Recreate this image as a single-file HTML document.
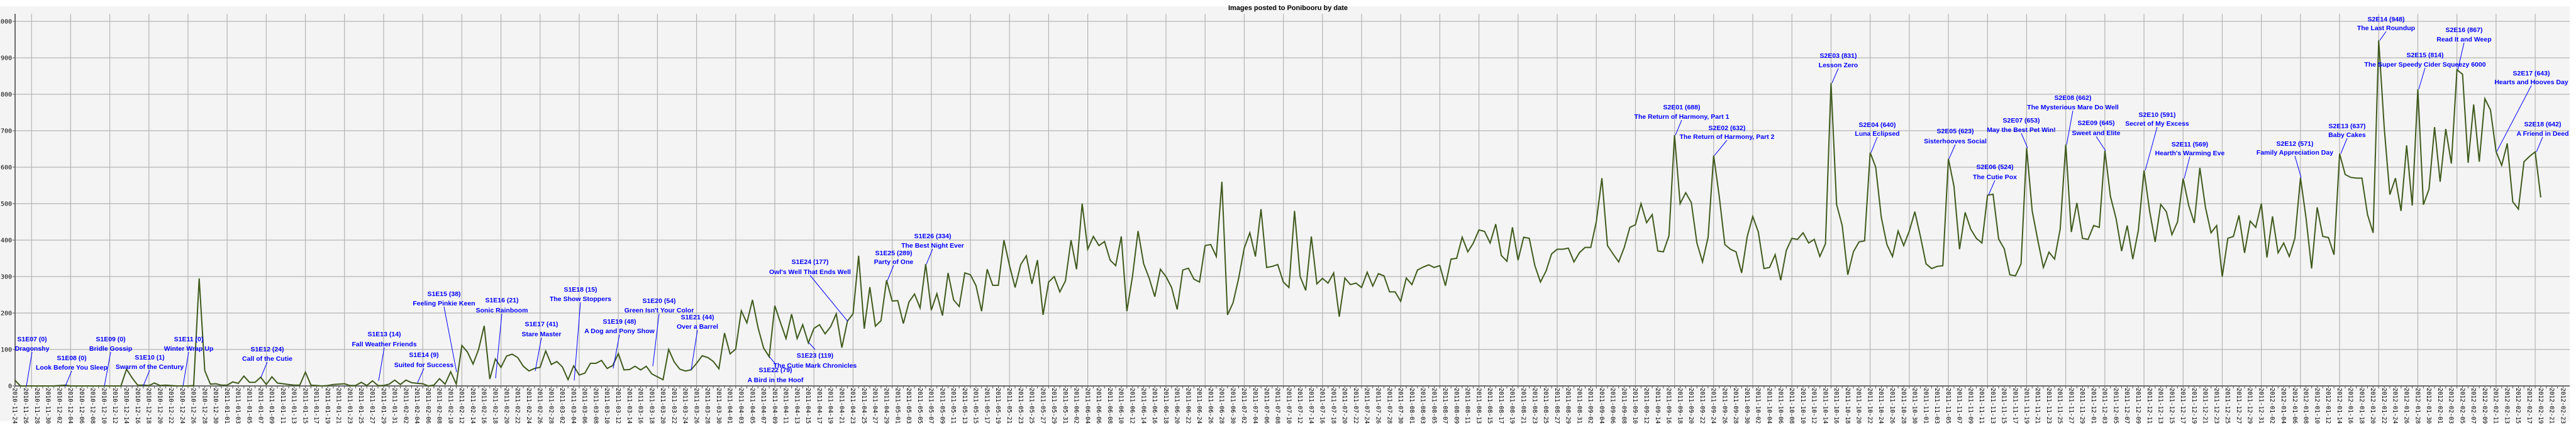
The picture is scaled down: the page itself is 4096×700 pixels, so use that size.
<!DOCTYPE html>
<html><head><meta charset="utf-8">
<style>
html,body{margin:0;padding:0;background:#fff;}
svg{display:block;}
.ann{font-family:"Liberation Sans",sans-serif;font-weight:bold;font-size:10.5px;fill:#0000ff;text-anchor:middle;}
.yl{font-family:"DejaVu Sans Mono","Liberation Mono",monospace;font-size:10px;fill:#000;text-anchor:end;}
.xl{font-family:"DejaVu Sans Mono","Liberation Mono",monospace;font-size:9.5px;fill:#000;}
</style></head>
<body>
<svg id="c" xmlns="http://www.w3.org/2000/svg" width="4096" height="700" viewBox="0 0 4096 700">
<rect x="0" y="0" width="4096" height="700" fill="#fff"/>
<rect x="0" y="10" width="4086" height="660" fill="#f4f4f4"/>
<text x="2048" y="16" font-family="Liberation Sans,sans-serif" font-weight="bold" font-size="11" text-anchor="middle">Images posted to Ponibooru by date</text>
<g id="grid"></g>
<g id="axes"></g>
<polyline id="line" fill="none" stroke="#3f5a1c" stroke-width="2" stroke-linejoin="miter"/>
<g id="anns"></g>
</svg>
<script>
var data=[16,0,0,0,0,0,0,0,1,2,0,0,0,0,0,0,0,0,0,0,46,22,2,2,1,8,1,2,1,0,0,0,1,295,42,5,6,2,2,11,7,27,10,10,24,4,25,8,6,4,2,2,38,2,1,0,1,4,5,
6,1,1,10,1,14,1,1,5,16,4,16,9,7,6,0,2,20,5,39,5,111,93,60,100,165,19,74,51,82,87,78,54,41,48,51,96,59,67,52,17,55,30,35,62,62,70,48,56,89,44,45,54,44,54,33,25,17,100,66,46,41,44,62,83,78,67,47,145,88,101,206,173,236,160,104,80,220,174,130,197,130,168,118,158,168,143,163,198,105,178,198,357,157,271,164,179,290,233,234,171,230,252,214,334,208,253,193,310,236,218,310,305,275,205,320,276,276,400,330,270,333,357,280,345,195,285,300,258,288,400,320,500,375,410,385,396,345,330,410,205,300,425,335,295,245,320,300,270,210,318,323,293,285,385,388,355,560,195,228,295,378,420,355,485,325,328,333,285,270,480,300,
262,410,280,295,282,310,190,296,278,282,270,312,274,308,302,258,258,232,296,278,318,326,332,325,330,275,348,350,408,368,392,428,424,392,444,358,342,435,345,408,405,330,285,315,362,375,375,378,340,366,380,380,450,570,385,362,340,380,
435,442,500,448,470,370,368,412,688,500,530,503,392,340,408,632,520,388,375,368,310,410,465,422,322,325,360,290,372,405,402,420,392,402,355,390,831,498,440,305,368,395,398,640,600,462,388,355,425,385,425,478,410,335,322,328,330,
623,548,375,476,430,405,392,523,526,403,376,305,302,335,653,480,400,325,367,348,430,662,422,502,405,402,440,435,645,520,460,370,440,348,428,591,480,395,498,478,415,450,569,495,447,598,490,420,440,300,405,410,468,365,
452,435,500,352,465,365,392,355,405,571,460,322,490,410,407,360,637,580,572,570,570,470,420,948,705,525,570,480,660,495,814,497,540,710,560,705,610,867,855,612,772,615,788,757,643,605,665,505,485,615,630,642,517];
var NS="http://www.w3.org/2000/svg";
function X(d){return 23.5+8.886*d;}
function Y(v){return 614-v*0.58;}
function el(t,a,p,txt){var e=document.createElementNS(NS,t);for(var k in a)e.setAttribute(k,a[k]);if(txt!==undefined)e.textContent=txt;p.appendChild(e);return e;}
var g=document.getElementById('grid'),ax=document.getElementById('axes'),an=document.getElementById('anns');
for(var v=0;v<=1000;v+=100){var y=Y(v);
 if(v>0)el('line',{x1:24,x2:4086,y1:y,y2:y,stroke:'#b4b4b4','stroke-width':1.2},g);
 el('line',{x1:20,x2:24,y1:y,y2:y,stroke:'#555','stroke-width':1},ax);
 el('text',{x:19,y:y+3.5,'class':'yl'},ax,String(v));}
for(var d=3;d<=456;d+=7){var x=X(d);el('line',{x1:x,x2:x,y1:22,y2:614,stroke:'#b4b4b4','stroke-width':1.2},g);}
el('line',{x1:24,x2:24,y1:22,y2:615,stroke:'#6e6a6e','stroke-width':2},ax);
el('line',{x1:23,x2:4086,y1:614,y2:614,stroke:'#6e6a6e','stroke-width':2},ax);
var start=Date.UTC(2010,10,24);
function pad(n){return n<10?'0'+n:''+n;}
for(var d=0;d<=456;d++){var x=X(d);
 el('line',{x1:x,x2:x,y1:614,y2:618,stroke:'#555','stroke-width':1},ax);
 if(d%2==0){var dt=new Date(start+d*86400000);
  var s=dt.getUTCFullYear()+'-'+pad(dt.getUTCMonth()+1)+'-'+pad(dt.getUTCDate());
  el('text',{x:0,y:0,'class':'xl',transform:'translate('+(x-3.2)+',617) rotate(90)'},ax,s);}}
var pts=[];for(var i=0;i<data.length;i++)pts.push(X(i).toFixed(1)+','+Y(data[i]).toFixed(1));
document.getElementById('line').setAttribute('points',pts.join(' '));
// [labelX, line1Y, line2Y, pointX, pointY or value, l1, l2, below]
var A=[
[51,539,554,42,0,'S1E07 (0)','Dragonshy'],
[114,569,584,104,0,'S1E08 (0)','Look Before You Sleep'],
[176,539,554,166,0,'S1E09 (0)','Bridle Gossip'],
[238,568,583,228,1,'S1E10 (1)','Swarm of the Century'],
[300,539,554,291,0,'S1E11 (0)','Winter Wrap Up'],
[425,555,570,415,24,'S1E12 (24)','Call of the Cutie'],
[611,531,547,602,14,'S1E13 (14)','Fall Weather Friends'],
[674,564,580,664,9,'S1E14 (9)','Suited for Success'],
[706,467,482,726,38,'S1E15 (38)','Feeling Pinkie Keen'],
[798,477,493,788,21,'S1E16 (21)','Sonic Rainboom'],
[861,515,531,851,41,'S1E17 (41)','Stare Master'],
[923,460,475,913,15,'S1E18 (15)','The Show Stoppers'],
[985,511,526,975,48,'S1E19 (48)','A Dog and Pony Show'],
[1048,478,493,1038,54,'S1E20 (54)',"Green Isn't Your Color"],
[1109,504,519,1099,44,'S1E21 (44)','Over a Barrel'],
[1233,588,604,1224,79,'S1E22 (79)','A Bird in the Hoof',1],
[1296,565,581,1286,119,'S1E23 (119)','The Cutie Mark Chronicles',1],
[1288,416,432,1348,177,'S1E24 (177)',"Owl's Well That Ends Well"],
[1421,402,416,1411,289,'S1E25 (289)','Party of One'],
[1483,375,390,1473,334,'S1E26 (334)','The Best Night Ever'],
[2674,170,185,2664,688,'S2E01 (688)','The Return of Harmony, Part 1'],
[2746,203,217,2726,632,'S2E02 (632)','The Return of Harmony, Part 2'],
[2923,88,103,2913,831,'S2E03 (831)','Lesson Zero'],
[2985,198,212,2975,640,'S2E04 (640)','Luna Eclipsed'],
[3109,208,224,3099,623,'S2E05 (623)','Sisterhooves Social'],
[3172,265,281,3162,524,'S2E06 (524)','The Cutie Pox'],
[3214,191,206,3224,653,'S2E07 (653)','May the Best Pet Win!'],
[3296,155,170,3286,662,'S2E08 (662)','The Mysterious Mare Do Well'],
[3333,195,211,3348,645,'S2E09 (645)','Sweet and Elite'],
[3430,182,196,3411,591,'S2E10 (591)','Secret of My Excess'],
[3482,229,243,3473,569,'S2E11 (569)',"Hearth's Warming Eve"],
[3649,228,242,3659,571,'S2E12 (571)','Family Appreciation Day'],
[3732,200,214,3722,637,'S2E13 (637)','Baby Cakes'],
[3794,30,44,3784,948,'S2E14 (948)','The Last Roundup'],
[3856,87,102,3846,814,'S2E15 (814)','The Super Speedy Cider Squeezy 6000'],
[3918,47,62,3908,867,'S2E16 (867)','Read It and Weep'],
[4025,116,130,3970,643,'S2E17 (643)','Hearts and Hooves Day'],
[4043,197,212,4033,642,'S2E18 (642)','A Friend in Deed']
];
A.forEach(function(a){
 var py=Y(a[4]);
 var ly=a[7]?a[1]-9:a[2]+6;
 el('line',{x1:a[0],y1:ly,x2:a[3],y2:py,stroke:'#0000ff','stroke-width':1},an);
 el('text',{x:a[0],y:a[1]+4,'class':'ann'},an,a[5]);
 el('text',{x:a[0],y:a[2]+4,'class':'ann'},an,a[6]);
});
</script>
</body></html>
